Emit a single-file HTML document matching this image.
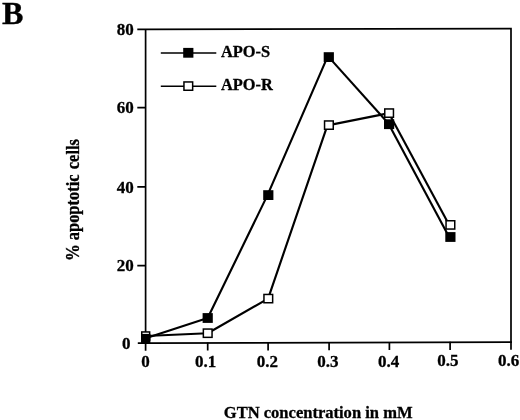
<!DOCTYPE html>
<html><head><meta charset="utf-8"><title>B</title>
<style>
html,body{margin:0;padding:0;background:#fff;}
body{width:520px;height:420px;overflow:hidden;}
svg{display:block;}
text{font-family:"Liberation Serif","DejaVu Serif",serif;font-weight:bold;fill:#000;stroke:#000;stroke-width:0.3px;}
</style></head><body>
<svg width="520" height="420" viewBox="0 0 520 420">
<rect width="520" height="420" fill="#fff"/>
<text x="1.9" y="24.25" font-size="32.2">B</text>
<!-- frame -->
<g stroke="#000" stroke-width="1.7" fill="none" stroke-linecap="butt">
<path d="M145.6 344V28.6M137.3 29.4H145.6L511 28.6V343" stroke-width="1.7" stroke-linejoin="miter"/>
<path d="M137.8 343.1H145.6L511.8 342.2" stroke-width="1.7"/>
<!-- y ticks -->
<path d="M137.3 107.7H145.5M137.3 186.8H145.5M137.3 265.6H145.5"/>
<!-- x ticks -->
<path d="M145.6 342.60V350.70M207.7 342.45V350.55M268.1 342.30V350.40M329.1 342.15V350.25M389.4 342.00V350.10M450.1 341.85V349.95M511 341.70V349.80"/>
</g>
<!-- series -->
<g stroke="#000" stroke-width="2.15" fill="none" stroke-linejoin="round">
<polyline points="145.7,338.3 207.7,318 267.5,195.1 327.4,57.1"/>
<polyline points="328.8,57.1 389.1,124.2"/>
<polyline points="388.8,124.2 449.1,237"/>
<polyline points="145.7,336 207.7,333.2 268.1,298.6 327.5,125.1"/>
<polyline points="328.9,125.1 389.1,113.1"/>
<polyline points="388.8,113.1 449.2,224.9"/>
<path d="M160.8 53H216.3M160.8 86.2H216.3" stroke-width="1.6"/>
</g>
<g fill="#fff" stroke="#000" stroke-width="1.5">
<rect x="141.75" y="331.95" width="7.9" height="8.1"/>
<rect x="203.35" y="329.05" width="8.7" height="8.3"/>
<rect x="263.95" y="294.45" width="8.7" height="8.3"/>
<rect x="324.55" y="120.95" width="8.7" height="8.3"/>
<rect x="384.75" y="108.95" width="8.7" height="8.3"/>
<rect x="446.05" y="220.75" width="8.7" height="8.3"/>
<rect x="183.95" y="81.95" width="8.7" height="8.3"/>
</g>
<g fill="#000">
<rect x="141" y="333.9" width="9.4" height="9.2"/>
<rect x="202.6" y="313.1" width="10.2" height="9.8"/>
<rect x="263.2" y="190.2" width="10.2" height="9.8"/>
<rect x="323.7" y="52.2" width="10.2" height="9.8"/>
<rect x="384" y="119.3" width="10.2" height="9.8"/>
<rect x="445.3" y="232.1" width="10.2" height="9.8"/>
<rect x="183.2" y="47.9" width="10.2" height="9.8"/>
</g>
<!-- labels -->
<g font-size="17" text-anchor="end">
<text x="133.8" y="35.2">80</text>
<text x="133.8" y="112.5">60</text>
<text x="133.8" y="193">40</text>
<text x="133.8" y="270.5">20</text>
<text x="130.5" y="349.1">0</text>
</g>
<g font-size="17" text-anchor="middle">
<text x="145.4" y="367.20">0</text>
<text x="205.7" y="367.05">0.1</text>
<text x="267.4" y="366.90">0.2</text>
<text x="327.9" y="366.75">0.3</text>
<text x="388.5" y="366.60">0.4</text>
<text x="447.8" y="366.46">0.5</text>
<text x="508.7" y="366.31">0.6</text>
</g>
<text x="221" y="57.1" font-size="16.4">APO-S</text>
<text x="221" y="90.3" font-size="16.4">APO-R</text>
<text x="223.8" y="418.1" font-size="16.55">GTN concentration in mM</text>
<text transform="translate(79.2 261) rotate(-90) scale(1 1.11)" font-size="16.9">% <tspan x="20.8" font-size="16.45" word-spacing="1.2">apoptotic cells</tspan></text>
</svg>
</body></html>
